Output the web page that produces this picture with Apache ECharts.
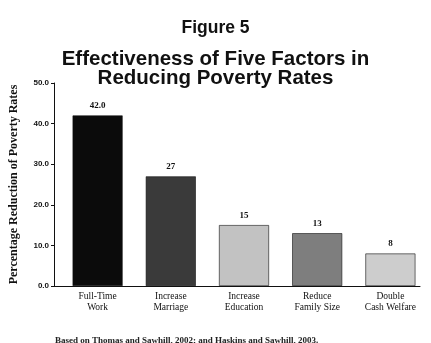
<!doctype html>
<html>
    <head>
        <meta charset="utf-8">
        <title>Figure 5</title>
        <style>
            html, body { margin: 0; padding: 0; background: #fff; }
            #main { width: 431px; height: 343px; }
        </style>
    </head>
    <body>
        <div id="main"></div>
        <script src="https://cdn.jsdelivr.net/npm/echarts@6/dist/echarts.min.js"></script>
        <script>
            var categories = ['Full-Time\nWork', 'Increase\nMarriage', 'Increase\nEducation', 'Reduce\nFamily Size', 'Double\nCash Welfare'];
            var values = [42.0, 27, 15, 13, 8];
            var valueLabels = ['42.0', '27', '15', '13', '8'];
            var barColors = ['#0b0b0b', '#3a3a3a', '#c2c2c2', '#7e7e7e', '#cdcdcd'];

            var chart = echarts.init(document.getElementById('main'));

            var serif = '"Liberation Serif", "DejaVu Serif", serif';
            var sans = '"Liberation Sans", Arial, sans-serif';
            var headStyle = { fontFamily: sans, fontSize: 20.5, fontWeight: 'bold', color: '#111' };

            chart.setOption({
                backgroundColor: '#fff',
                animation: false,
                title: [{
                    text: 'Figure 5',
                    left: 'center',
                    top: 14,
                    textStyle: { fontFamily: sans, fontSize: 17.5, fontWeight: 'bold', color: '#111' }
                }, {
                    text: 'Effectiveness of Five Factors in',
                    left: 'center',
                    top: 44,
                    textStyle: headStyle
                }, {
                    text: 'Reducing Poverty Rates',
                    left: 'center',
                    top: 63,
                    textStyle: headStyle
                }, {
                    text: 'Based on Thomas and Sawhill, 2002; and Haskins and Sawhill, 2003.',
                    left: 50,
                    top: 331,
                    textStyle: { fontFamily: serif, fontSize: 9, fontWeight: 'bold', color: '#222' }
                }],
                grid: [
                    { left: 52, right: 11, top: 83, bottom: 57 },
                    { left: 61, right: 4, top: 83, bottom: 57 }
                ],
                xAxis: [{
                    type: 'category',
                    gridIndex: 0,
                    data: [''],
                    axisLine: { lineStyle: { color: '#111', width: 1 } },
                    axisTick: { show: false },
                    axisLabel: { show: false }
                }, {
                    type: 'category',
                    gridIndex: 1,
                    data: categories,
                    axisLine: { show: false },
                    axisTick: { show: false },
                    axisLabel: {
                        margin: 5,
                        fontFamily: serif,
                        fontSize: 9.5,
                        lineHeight: 11,
                        color: '#111'
                    }
                }],
                yAxis: [{
                    type: 'value',
                    gridIndex: 0,
                    min: 0,
                    max: 50,
                    interval: 10,
                    name: 'Percentage Reduction of Poverty Rates',
                    nameLocation: 'middle',
                    nameGap: 34,
                    nameTextStyle: { fontFamily: serif, fontSize: 12, fontWeight: 'bold', color: '#111' },
                    axisLine: { show: true, lineStyle: { color: '#111', width: 1 } },
                    axisTick: { show: true, length: 3, lineStyle: { color: '#111' } },
                    splitLine: { show: false },
                    axisLabel: {
                        margin: 5,
                        fontFamily: sans,
                        fontSize: 8,
                        fontWeight: 'bold',
                        color: '#111',
                        formatter: function (v) { return v.toFixed(1); }
                    }
                }, {
                    type: 'value',
                    gridIndex: 1,
                    min: 0,
                    max: 50,
                    interval: 10,
                    show: false,
                    splitLine: { show: false }
                }],
                series: [{
                    type: 'bar',
                    xAxisIndex: 1,
                    yAxisIndex: 1,
                    barWidth: 50,
                    data: values.map(function (v, i) {
                        return {
                            value: v,
                            itemStyle: { color: barColors[i], borderColor: '#111', borderWidth: 0.6 }
                        };
                    }),
                    label: {
                        show: true,
                        position: 'top',
                        distance: 5,
                        fontFamily: serif,
                        fontSize: 9,
                        fontWeight: 'bold',
                        color: '#111',
                        formatter: function (p) { return valueLabels[p.dataIndex]; }
                    }
                }]
            });

            window.onresize = chart.resize;
        </script>
    </body>
</html>
